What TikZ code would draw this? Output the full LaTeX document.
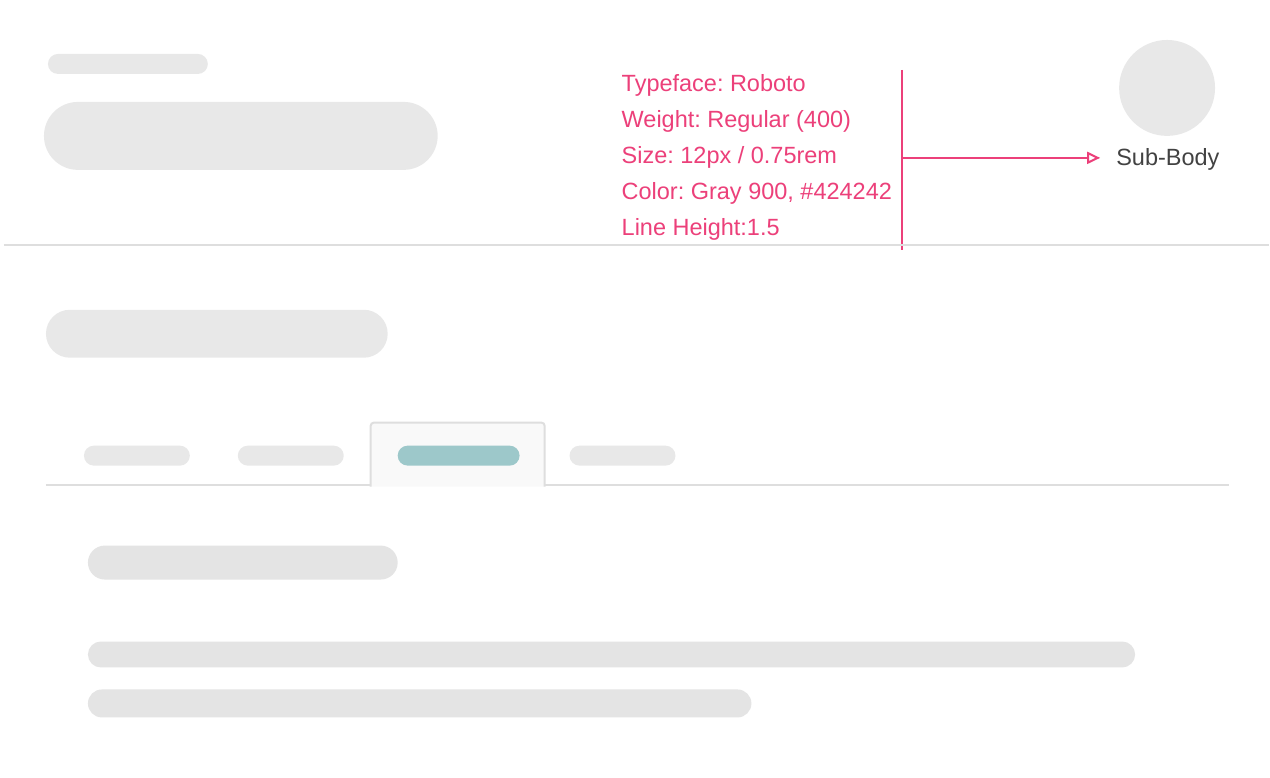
\documentclass[tikz,border=0pt]{standalone}
\usepackage{fontspec}
\setmainfont{Liberation Sans}
\usetikzlibrary{shapes.misc, arrows.meta, positioning}
\definecolor{pillgray}{HTML}{E8E8E8}
\definecolor{bargray}{HTML}{E4E4E4}
\definecolor{rulegray}{HTML}{DEDEDE}
\definecolor{tabfill}{HTML}{F9F9F9}
\definecolor{tabteal}{HTML}{9DC8CA}
\definecolor{specpink}{HTML}{EC407A}
\definecolor{gray900}{HTML}{424242}
\frenchspacing

\begin{document}
\begin{tikzpicture}[
  x=1pt, y=-1pt,
  pill/.style={rounded rectangle, fill=pillgray, inner sep=0pt, outer sep=0pt},
  bar/.style={pill, fill=bargray},
  spec/.style={anchor=base west, text=specpink, font=\fontsize{23.5}{36}\selectfont, inner sep=0pt},
  marker/.style={draw=specpink, line width=2pt},
  >={Triangle[open, length=13pt, width=12pt]},
]
  \fill[white] (0,0) rectangle (1270,778);

  \node[pill, minimum width=160pt, minimum height=20pt] (eyebrow) at (128,64) {};
  \node[pill, minimum width=394pt, minimum height=68pt] (headline) at (241,136) {};
  \node[circle, fill=pillgray, minimum size=96pt, inner sep=0pt] (avatar) at (1168,88) {};
  \node[spec, text=gray900] (subbody) at (1117,166) {Sub-Body};

  \node[spec] (typeface) at (622,92) {Typeface: Roboto};
  \node[spec] (weight) at (622,128) {Weight: Regular (400)};
  \node[spec] (size) at (622,164) {Size: 12px / 0.75rem};
  \node[spec] (color) at (622,200) {Color: Gray 900, \#424242};
  \node[spec] (lineheight) at (622,236) {Line Height:1.5};

  \coordinate (bracetop) at (903,70);
  \coordinate (bracebot) at (903,250);
  \coordinate (bracemid) at (903,158);
  \draw[marker] (bracetop) -- (bracebot);
  \draw[marker, ->, shorten >=16pt] (bracemid) -- (bracemid -| subbody.west);

  \draw[rulegray, line width=2pt] (4,245) -- (1270,245);

  \node[pill, minimum width=342pt, minimum height=48pt] (section) at (217,334) {};

  \draw[rulegray, line width=2pt] (46,485) -- (1230,485);
  \filldraw[fill=tabfill, draw=rulegray, line width=2pt, rounded corners=3pt]
    (371,487) -- (371,423) -- (545,423) -- (545,487);
  \node[pill, minimum width=106pt, minimum height=20pt] (tabone) at (137,456) {};
  \node[pill, minimum width=106pt, minimum height=20pt] (tabtwo) at (291,456) {};
  \node[pill, fill=tabteal, minimum width=122pt, minimum height=20pt] (tabactive) at (459,456) {};
  \node[pill, minimum width=106pt, minimum height=20pt] (tabfour) at (623,456) {};

  \node[bar, minimum width=310pt, minimum height=34pt] (subtitle) at (243,563) {};
  \node[bar, minimum width=1048pt, minimum height=26pt] (lineone) at (612,655) {};
  \node[bar, minimum width=664pt, minimum height=28pt] (linetwo) at (420,704) {};
\end{tikzpicture}
\end{document}
